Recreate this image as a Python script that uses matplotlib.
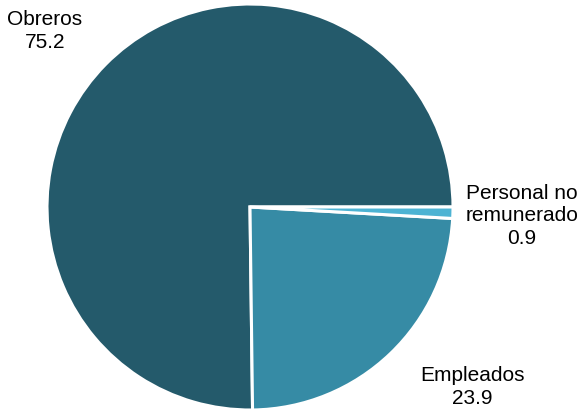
import matplotlib.pyplot as plt

# datos
categorias = ["Obreros", "Empleados", "Personal no\nremunerado"]
valores = [75.2, 23.9, 0.9]
colores = ["#245a6b", "#368ba5", "#4db3d3"]

plt.rcParams["font.family"] = ["Liberation Sans", "DejaVu Sans"]

fig = plt.figure(figsize=(5.85, 4.17), dpi=100)
# centro (250,207) px, radio ~203 px
r_px = 203
ax = fig.add_axes([(250 - r_px) / 585, (417 - 207 - r_px) / 417, 2 * r_px / 585, 2 * r_px / 417])

ax.pie(valores, colors=colores, startangle=0, counterclock=True,
       wedgeprops=dict(edgecolor="white", linewidth=2.2))
ax.set_xlim(-1, 1)
ax.set_ylim(-1, 1)
ax.set_aspect("equal")
ax.axis("off")

# etiquetas (posiciones en px del original -> coordenadas de datos)
pos_px = [(45, 31), (472, 387), (522, 216)]
for cat, val, (px, py) in zip(categorias, valores, pos_px):
    x = (px - 250) / r_px
    y = (207 - py) / r_px
    ax.text(x, y, f"{cat}\n{val}", ha="center", va="center", fontsize=15,
            linespacing=1.25, clip_on=False)

fig.savefig("out.png", dpi=100)
